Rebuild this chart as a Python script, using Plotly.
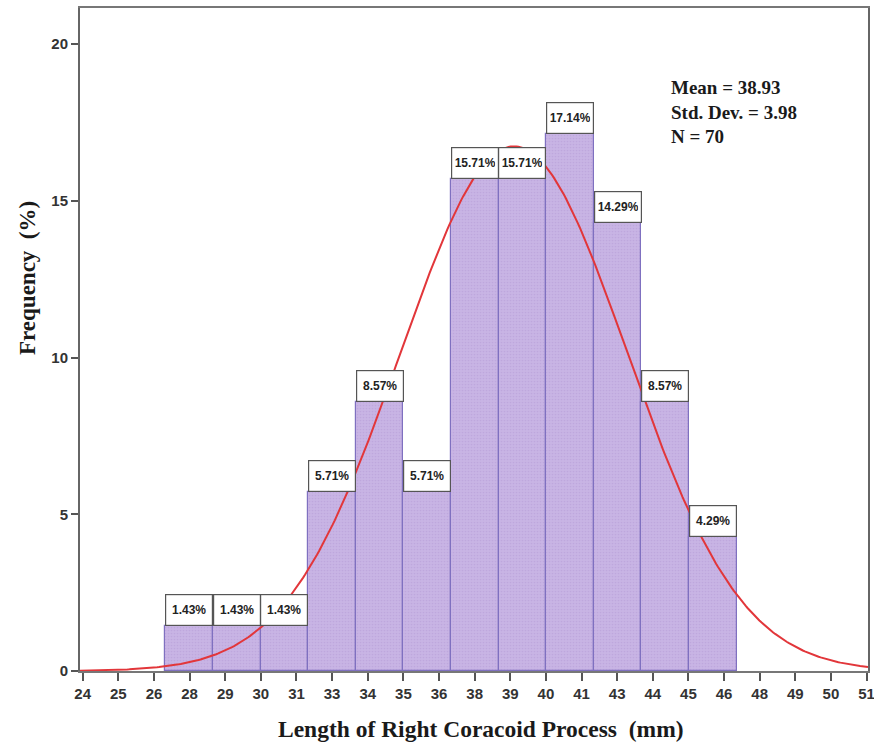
import numpy as np
import plotly.graph_objects as go

# ---- data ----
bin_start = 26.7
bin_width = 1.67
percents = [1.43, 1.43, 1.43, 5.71, 8.57, 5.71, 15.71, 15.71, 17.14, 14.29, 8.57, 4.29]
pct_labels = ["1.43%", "1.43%", "1.43%", "5.71%", "8.57%", "5.71%", "15.71%", "15.71%",
              "17.14%", "14.29%", "8.57%", "4.29%"]
mean_val = 38.93
sd_val = 3.98
n_val = 70
tick_start = 23.8
tick_step = 1.25
tick_labels = ["24", "25", "26", "28", "29", "30", "31", "33", "34", "35", "36", "38",
               "39", "40", "41", "43", "44", "45", "46", "48", "49", "50", "51"]
y_ticks = [0, 5, 10, 15, 20]

centers = [bin_start + bin_width * (i + 0.5) for i in range(len(percents))]
tick_vals = [tick_start + tick_step * i for i in range(len(tick_labels))]

x_min, x_max = 23.705, 51.35
xs = np.linspace(x_min, x_max, 400)
ys = 100 * bin_width / (sd_val * np.sqrt(2 * np.pi)) * np.exp(-0.5 * ((xs - mean_val) / sd_val) ** 2)

fig = go.Figure()
fig.add_trace(go.Bar(
    x=centers, y=percents, width=bin_width,
    marker=dict(color="#c5b0e2",
                line=dict(color="#7f70c0", width=1.2),
                pattern=dict(shape=".", size=3, solidity=0.25, fgcolor="#b49ad6", bgcolor="#c8b4e4")),
    hoverinfo="skip", showlegend=False))
fig.add_trace(go.Scatter(x=xs, y=ys, mode="lines",
                         line=dict(color="#e2363a", width=2), hoverinfo="skip", showlegend=False))

for c, p, lab in zip(centers, percents, pct_labels):
    fig.add_annotation(x=c, y=p, xref="x", yref="y", text="<b>%s</b>" % lab,
                       showarrow=False, yanchor="bottom", xanchor="center",
                       width=40, height=24, borderpad=3, borderwidth=1.2,
                       bordercolor="#555555", bgcolor="white",
                       font=dict(family="Liberation Sans Narrow, Arial Narrow, Liberation Sans, sans-serif",
                                 size=12, color="#222222"))

fig.add_annotation(x=669, y=75, xref="paper", yref="paper", showarrow=False,
                   text="<b>Mean = %.2f<br>Std. Dev. = %.2f<br>N = %d</b>" % (mean_val, sd_val, n_val),
                   align="left", xanchor="left", yanchor="top",
                   font=dict(family="Liberation Serif, Times New Roman, serif", size=19, color="#1a1a1a"))

fig.add_annotation(x=27, y=278, showarrow=False, text="<b>Frequency  (%)</b>", textangle=-90,
                   xanchor="center", yanchor="middle",
                   font=dict(family="Liberation Serif, Times New Roman, serif", size=23, color="#1a1a1a"))
fig.add_annotation(x=481, y=729, showarrow=False, text="<b>Length of Right Coracoid Process  (mm)</b>",
                   xanchor="center", yanchor="middle",
                   font=dict(family="Liberation Serif, Times New Roman, serif", size=23.5, color="#1a1a1a"))

# convert pixel-positioned annotations to paper coords
W, H = 874, 747
ml, mr, mt, mb = 80, 6, 8, 76
pw, ph = W - ml - mr, H - mt - mb
for a in fig.layout.annotations:
    if a.xref == "x":
        continue
    px, py = a.x, a.y
    a.xref = "paper"
    a.yref = "paper"
    a.x = (px - ml) / pw
    a.y = 1 - (py - mt) / ph

tick_font = dict(family="Liberation Sans, Arial, sans-serif", size=15, color="#333333", weight="bold")
fig.update_layout(
    width=W, height=H, margin=dict(l=ml, r=mr, t=mt, b=mb, autoexpand=False),
    paper_bgcolor="white", plot_bgcolor="white", bargap=0,
    xaxis=dict(range=[x_min, x_max], tickmode="array", tickvals=tick_vals, ticktext=tick_labels,
               ticks="outside", ticklen=8, tickwidth=2, tickcolor="#555555",
               showline=True, linecolor="#777777", linewidth=2, mirror=True,
               showgrid=False, zeroline=False, automargin=False, tickfont=tick_font,
               ticklabeloverflow="allow"),
    yaxis=dict(range=[0, 21.15], tickmode="array", tickvals=y_ticks,
               ticks="outside", ticklen=7, tickwidth=2, tickcolor="#555555",
               showline=True, linecolor="#666666", linewidth=2, mirror=True,
               showgrid=False, zeroline=False, automargin=False, tickfont=tick_font,
               ticklabeloverflow="allow"),
)

fig.write_html("out.html", config={"displayModeBar": False},
               post_script="document.body.style.margin='0';document.body.style.overflow='hidden';")
